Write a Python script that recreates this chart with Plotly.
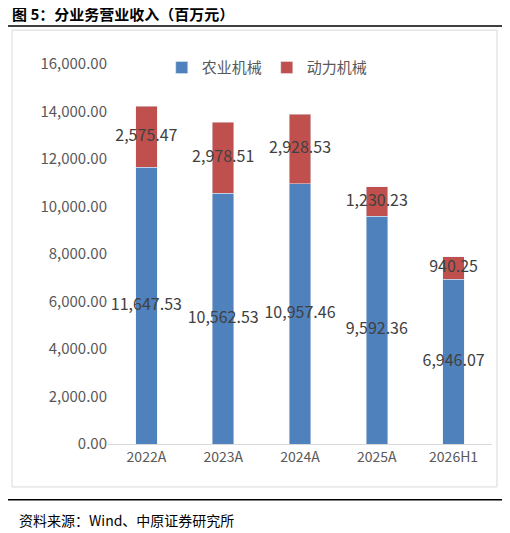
import plotly.graph_objects as go

years = ['2022A', '2023A', '2024A', '2025A', '2026H1']
agri = [11647.53, 10562.53, 10957.46, 9592.36, 6946.07]
power = [2575.47, 2978.51, 2928.53, 1230.23, 940.25]

blue = '#4F81BD'
red = '#C0504D'
font = 'Noto Sans CJK SC'

fig = go.Figure()
fig.add_trace(go.Bar(x=years, y=agri, name='农业机械', marker_color=blue, width=0.28))
fig.add_trace(go.Bar(x=years, y=power, name='动力机械', marker_color=red, width=0.28))

# value labels centred in each segment
fig.add_trace(go.Scatter(x=years, y=[a / 2 for a in agri], mode='text',
                         text=[f'{a:,.2f}' for a in agri], showlegend=False,
                         textfont=dict(size=16, color='#404040'), cliponaxis=False))
fig.add_trace(go.Scatter(x=years, y=[a + p / 2 for a, p in zip(agri, power)], mode='text',
                         text=[f'{p:,.2f}' for p in power], showlegend=False,
                         textfont=dict(size=16, color='#404040'), cliponaxis=False))

fig.update_layout(
    barmode='stack', width=510, height=533,
    margin=dict(l=100, r=26, t=56, b=97),
    plot_bgcolor='white', paper_bgcolor='white',
    font=dict(family=font, color='#595959', size=14),
    legend=dict(orientation='h', x=0.14, y=0.99, yanchor='middle',
                font=dict(size=15, color='#595959'), traceorder='normal'),
    showlegend=True,
)
fig.update_yaxes(range=[0, 16000], dtick=2000, tickformat=',.2f', showgrid=False,
                 zeroline=False, ticks='', tickfont=dict(size=15))
fig.update_xaxes(showline=True, linecolor='#D9D9D9', tickfont=dict(size=14))

fig.add_shape(type='rect', xref='paper', yref='paper', x0=-0.25, x1=1.013, y0=-0.113, y1=1.089,
              line=dict(color='#D9D9D9', width=1))
fig.add_shape(type='line', xref='paper', yref='paper', x0=-0.268, x1=1.034, y0=1.1, y1=1.1,
              line=dict(color='black', width=1.5))
fig.add_shape(type='line', xref='paper', yref='paper', x0=-0.268, x1=1.034, y0=-0.147, y1=-0.147,
              line=dict(color='black', width=1.5))
fig.add_annotation(text='<b>图 5：分业务营业收入（百万元）</b>', xref='paper', yref='paper',
                   x=-0.255, y=1.132, xanchor='left', yanchor='middle', showarrow=False,
                   font=dict(size=15, color='black', family=font))
fig.add_annotation(text='资料来源：Wind、中原证券研究所', xref='paper', yref='paper',
                   x=-0.237, y=-0.2, xanchor='left', yanchor='middle', showarrow=False,
                   font=dict(size=14, color='black', family=font))

fig.write_html('out.html')
